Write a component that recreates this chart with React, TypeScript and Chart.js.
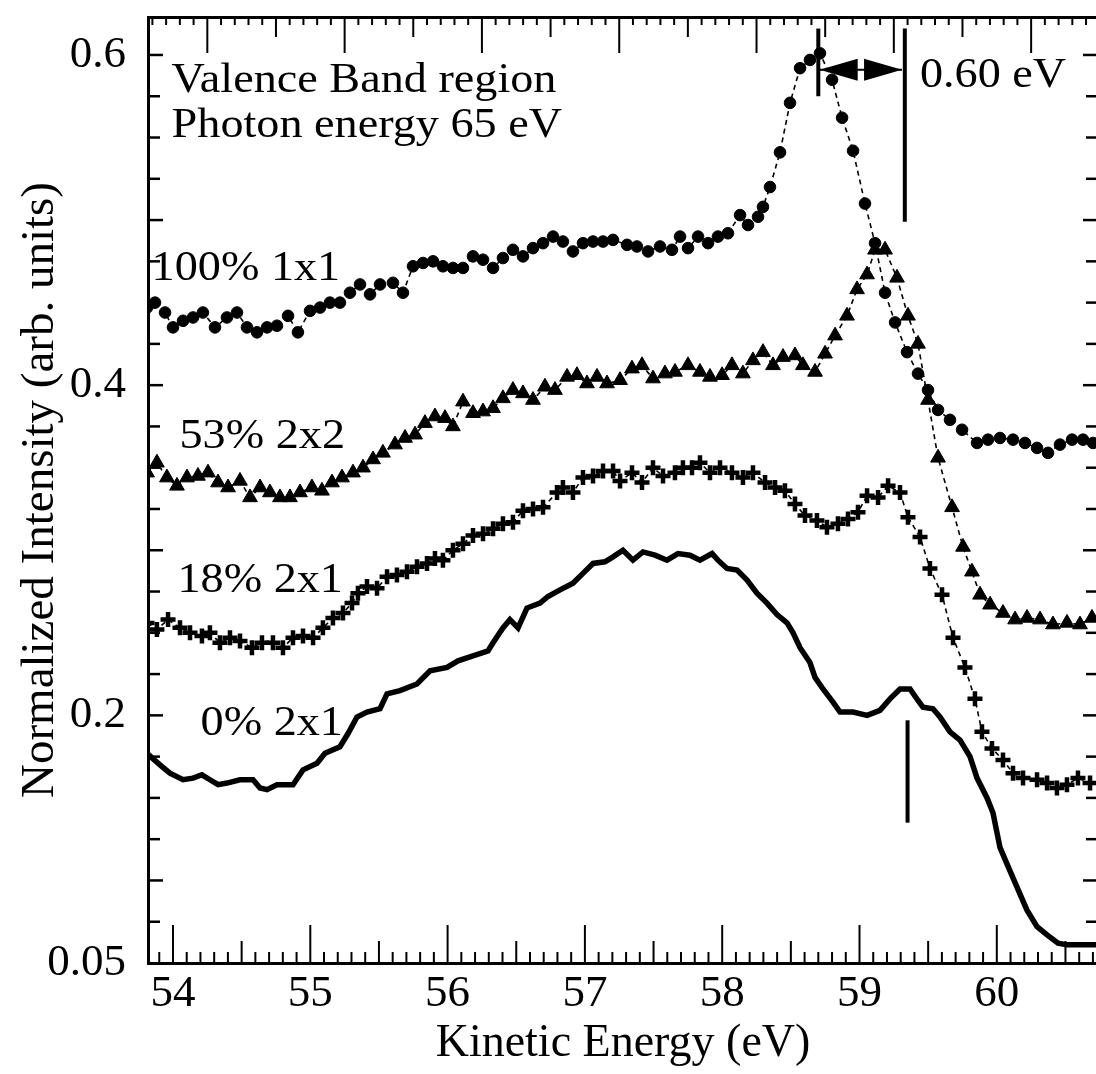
import React, { useEffect, useRef } from 'react';
import { Chart, registerables } from 'chart.js';

Chart.register(...registerables);

// ---- data (kinetic energy in eV, normalized intensity) ----
// 100% 1x1 (filled circles)
const energy100 = [
  53.811, 53.869, 53.942, 54.000, 54.073, 54.146, 54.218, 54.306, 54.393, 54.466,
  54.539, 54.612, 54.685, 54.757, 54.838, 54.910, 54.998, 55.071, 55.143, 55.216,
  55.289, 55.362, 55.435, 55.508, 55.602, 55.675, 55.748, 55.821, 55.894, 55.966,
  56.039, 56.112, 56.185, 56.258, 56.331, 56.403, 56.476, 56.549, 56.622, 56.695,
  56.768, 56.840, 56.913, 56.986, 57.059, 57.132, 57.205, 57.307, 57.379, 57.460,
  57.547, 57.634, 57.693, 57.751, 57.824, 57.897, 57.969, 58.042, 58.130, 58.188,
  58.261, 58.297, 58.348, 58.421, 58.494, 58.567, 58.639, 58.712, 58.800, 58.873,
  58.953, 59.040, 59.113, 59.186, 59.259, 59.346, 59.426, 59.499, 59.572, 59.659,
  59.747, 59.856, 59.936, 60.023, 60.118, 60.205, 60.293, 60.373, 60.460, 60.548,
  60.628, 60.701,
];
const int100 = [
  0.447, 0.450, 0.444, 0.435, 0.439, 0.441, 0.444, 0.435, 0.441, 0.444,
  0.435, 0.432, 0.435, 0.436, 0.442, 0.432, 0.445, 0.447, 0.450, 0.450,
  0.456, 0.461, 0.455, 0.461, 0.462, 0.456, 0.472, 0.474, 0.475, 0.472,
  0.471, 0.471, 0.478, 0.476, 0.471, 0.477, 0.482, 0.478, 0.483, 0.486,
  0.490, 0.487, 0.481, 0.486, 0.487, 0.487, 0.488, 0.485, 0.484, 0.481,
  0.484, 0.482, 0.490, 0.483, 0.490, 0.486, 0.490, 0.492, 0.503, 0.497,
  0.502, 0.508, 0.520, 0.541, 0.571, 0.592, 0.597, 0.601, 0.585, 0.562,
  0.542, 0.510, 0.486, 0.456, 0.438, 0.420, 0.407, 0.397, 0.385, 0.379,
  0.373, 0.365, 0.367, 0.368, 0.367, 0.365, 0.362, 0.359, 0.364, 0.367,
  0.367, 0.365,
];

// 53% 2x2 (filled triangles)
const energy53 = [
  53.811, 53.883, 53.956, 54.029, 54.102, 54.182, 54.255, 54.328, 54.401, 54.488,
  54.561, 54.634, 54.706, 54.779, 54.852, 54.925, 55.012, 55.085, 55.158, 55.231,
  55.311, 55.384, 55.457, 55.529, 55.617, 55.690, 55.763, 55.835, 55.908, 55.981,
  56.039, 56.112, 56.185, 56.258, 56.331, 56.403, 56.476, 56.549, 56.622, 56.709,
  56.782, 56.870, 56.942, 57.015, 57.088, 57.161, 57.256, 57.343, 57.416, 57.496,
  57.583, 57.656, 57.751, 57.838, 57.911, 57.999, 58.071, 58.151, 58.224, 58.297,
  58.370, 58.443, 58.530, 58.588, 58.676, 58.749, 58.822, 58.909, 58.982, 59.055,
  59.113, 59.186, 59.273, 59.353, 59.426, 59.499, 59.572, 59.674, 59.754, 59.819,
  59.878, 59.951, 60.045, 60.133, 60.220, 60.315, 60.409, 60.511, 60.606, 60.693,
];
const int53 = [
  0.347, 0.353, 0.344, 0.339, 0.344, 0.345, 0.347, 0.341, 0.338, 0.342,
  0.332, 0.338, 0.335, 0.332, 0.332, 0.335, 0.338, 0.336, 0.341, 0.344,
  0.347, 0.350, 0.355, 0.359, 0.364, 0.368, 0.370, 0.377, 0.381, 0.380,
  0.375, 0.390, 0.383, 0.384, 0.386, 0.392, 0.397, 0.395, 0.391, 0.399,
  0.397, 0.405, 0.406, 0.401, 0.405, 0.401, 0.403, 0.410, 0.412, 0.404,
  0.407, 0.408, 0.412, 0.408, 0.405, 0.406, 0.412, 0.407, 0.415, 0.420,
  0.412, 0.417, 0.418, 0.412, 0.408, 0.419, 0.430, 0.442, 0.458, 0.467,
  0.482, 0.482, 0.465, 0.442, 0.425, 0.391, 0.356, 0.326, 0.302, 0.287,
  0.273, 0.267, 0.262, 0.258, 0.259, 0.258, 0.255, 0.256, 0.255, 0.259,
];

// 18% 2x1 (plus signs)
const energy18 = [
  53.811, 53.883, 53.964, 54.051, 54.124, 54.211, 54.269, 54.342, 54.415, 54.488,
  54.575, 54.648, 54.728, 54.801, 54.874, 54.947, 55.020, 55.092, 55.165, 55.238,
  55.304, 55.347, 55.413, 55.486, 55.559, 55.631, 55.704, 55.777, 55.850, 55.908,
  55.966, 56.039, 56.112, 56.185, 56.258, 56.331, 56.403, 56.476, 56.549, 56.622,
  56.695, 56.797, 56.840, 56.913, 56.986, 57.059, 57.132, 57.205, 57.256, 57.343,
  57.416, 57.496, 57.569, 57.656, 57.714, 57.780, 57.838, 57.911, 57.984, 58.071,
  58.151, 58.224, 58.312, 58.385, 58.457, 58.530, 58.603, 58.690, 58.763, 58.843,
  58.916, 58.989, 59.055, 59.135, 59.208, 59.295, 59.353, 59.441, 59.513, 59.601,
  59.681, 59.768, 59.841, 59.892, 59.965, 60.045, 60.118, 60.191, 60.293, 60.366,
  60.438, 60.511, 60.591, 60.679,
];
const int18 = [
  0.256, 0.252, 0.258, 0.253, 0.250, 0.248, 0.250, 0.244, 0.247, 0.245,
  0.241, 0.244, 0.244, 0.241, 0.247, 0.248, 0.247, 0.253, 0.259, 0.262,
  0.268, 0.274, 0.278, 0.277, 0.284, 0.285, 0.287, 0.290, 0.292, 0.295,
  0.294, 0.300, 0.304, 0.309, 0.310, 0.313, 0.316, 0.317, 0.324, 0.325,
  0.326, 0.335, 0.338, 0.335, 0.344, 0.345, 0.348, 0.348, 0.342, 0.347,
  0.341, 0.350, 0.345, 0.347, 0.350, 0.350, 0.353, 0.347, 0.350, 0.347,
  0.344, 0.347, 0.341, 0.338, 0.336, 0.328, 0.321, 0.318, 0.314, 0.316,
  0.319, 0.323, 0.333, 0.332, 0.339, 0.335, 0.320, 0.308, 0.289, 0.273,
  0.247, 0.229, 0.210, 0.190, 0.180, 0.173, 0.165, 0.162, 0.161, 0.159,
  0.156, 0.158, 0.162, 0.159,
];

// 0% 2x1 (solid line)
const energy0 = [
  53.811, 53.905, 53.978, 54.073, 54.146, 54.211, 54.269, 54.328, 54.393, 54.488,
  54.583, 54.634, 54.685, 54.757, 54.874, 54.947, 55.049, 55.107, 55.216, 55.275,
  55.340, 55.413, 55.508, 55.559, 55.653, 55.777, 55.872, 55.996, 56.076, 56.185,
  56.294, 56.331, 56.403, 56.454, 56.513, 56.578, 56.673, 56.731, 56.819, 56.913,
  56.986, 57.059, 57.146, 57.205, 57.277, 57.350, 57.423, 57.511, 57.598, 57.678,
  57.765, 57.838, 57.926, 57.969, 58.035, 58.108, 58.181, 58.253, 58.326, 58.399,
  58.472, 58.516, 58.567, 58.639, 58.676, 58.734, 58.807, 58.858, 58.953, 59.055,
  59.149, 59.222, 59.295, 59.368, 59.426, 59.462, 59.535, 59.586, 59.659, 59.732,
  59.805, 59.856, 59.929, 59.972, 60.023, 60.074, 60.147, 60.220, 60.293, 60.366,
  60.446, 60.511, 60.740,
];
const int0 = [
  0.177, 0.170, 0.165, 0.161, 0.162, 0.164, 0.161, 0.158, 0.159, 0.161,
  0.161, 0.156, 0.155, 0.158, 0.158, 0.167, 0.171, 0.177, 0.181, 0.189,
  0.199, 0.202, 0.204, 0.213, 0.215, 0.219, 0.227, 0.229, 0.233, 0.236,
  0.239, 0.244, 0.253, 0.258, 0.253, 0.265, 0.268, 0.272, 0.276, 0.280,
  0.286, 0.292, 0.293, 0.296, 0.300, 0.294, 0.299, 0.297, 0.294, 0.298,
  0.297, 0.294, 0.298, 0.294, 0.289, 0.288, 0.282, 0.274, 0.268, 0.261,
  0.256, 0.250, 0.241, 0.232, 0.223, 0.216, 0.208, 0.202, 0.202, 0.200,
  0.203, 0.210, 0.216, 0.216, 0.209, 0.205, 0.204, 0.199, 0.190, 0.185,
  0.175, 0.162, 0.150, 0.141, 0.120, 0.110, 0.096, 0.082, 0.072, 0.067,
  0.062, 0.061, 0.061,
];

const xTickValues = [54, 55, 56, 57, 58, 59, 60];
const yTickValues = [0.05, 0.2, 0.4, 0.6];

const seriesLabels = ['100% 1x1', '53% 2x2', '18% 2x1', '0% 2x1'];

// annotation texts (data coordinates of anchor; baseline)
const noteTexts = ['Valence Band region', 'Photon energy 65 eV', '0.60 eV', '100% 1x1', '53% 2x2', '18% 2x1', '0% 2x1'];
const noteX = [53.99, 53.99, 59.44, 55.218, 55.253, 55.238, 55.238];
const noteY = [0.5776, 0.5503, 0.5806, 0.4636, 0.3618, 0.2745, 0.1879];
const noteAlign = ['left', 'left', 'left', 'right', 'right', 'right', 'right'];

// marker lines (data coordinates)
const markX = [58.70, 59.33, 59.35];
const markYTop = [0.616, 0.616, 0.197];
const markYBottom = [0.575, 0.499, 0.135];

// double arrow for the 0.60 eV shift
const arrowFrom = 58.71;
const arrowTo = 59.31;
const arrowY = 0.591;

// ---- axis ranges ----
const X_MIN = 53.818;
const X_MAX = 60.737;
const TOP_SHIFT = 0.25;
const Y_MIN = 0.05;
const Y_MAX = 0.623;

const FONT = "'Liberation Serif', 'Times New Roman', serif";
const NOTE_SIZE = 42;
const NOTE_STRETCH = 1.1;

const framePlugin = {
  id: 'frameTicks',
  afterDraw(chart: any) {
    const { ctx, chartArea: a } = chart;
    const xs = chart.scales.x;
    const xt = chart.scales.x2;
    const ys = chart.scales.y;
    ctx.save();
    ctx.strokeStyle = '#000';
    ctx.lineCap = 'butt';
    const seg = (x1: number, y1: number, x2: number, y2: number, w: number) => {
      ctx.lineWidth = w;
      ctx.beginPath();
      ctx.moveTo(x1, y1);
      ctx.lineTo(x2, y2);
      ctx.stroke();
    };
    for (let i = Math.ceil(xs.min * 10); i <= Math.floor(xs.max * 10); i++) {
      const px = xs.getPixelForValue(i / 10);
      const len = i % 10 === 0 ? 38 : i % 5 === 0 ? 22 : 11;
      seg(px, a.bottom, px, a.bottom - len, 2);
    }
    for (let i = Math.ceil(xt.min * 10); i <= Math.floor(xt.max * 10); i++) {
      const px = xt.getPixelForValue(i / 10);
      const len = i % 10 === 0 ? 36 : i % 5 === 0 ? 20 : 8;
      seg(px, a.top, px, a.top + len, 2);
    }
    for (let i = Math.round(ys.min * 40) + 1; i <= Math.floor(ys.max * 40 + 1e-6); i++) {
      const py = ys.getPixelForValue(i / 40);
      const len = i % 4 === 0 ? 15 : 12;
      seg(a.left, py, a.left + len, py, 2.5);
      seg(a.right, py, a.right - len, py, 2.5);
    }
    ctx.restore();
  },
  afterDatasetsDraw(chart: any) {
    const { ctx } = chart;
    const xs = chart.scales.x;
    const ys = chart.scales.y;
    ctx.save();
    ctx.fillStyle = '#000';
    ctx.strokeStyle = '#000';
    ctx.textBaseline = 'alphabetic';
    ctx.font = `${NOTE_SIZE}px ${FONT}`;
    noteTexts.forEach((t, i) => {
      ctx.save();
      ctx.translate(xs.getPixelForValue(noteX[i]), ys.getPixelForValue(noteY[i]));
      ctx.scale(NOTE_STRETCH, 1);
      ctx.textAlign = noteAlign[i];
      ctx.fillText(t, 0, 0);
      ctx.restore();
    });
    ctx.lineWidth = 4;
    markX.forEach((x, i) => {
      const px = xs.getPixelForValue(x);
      ctx.beginPath();
      ctx.moveTo(px, ys.getPixelForValue(markYTop[i]));
      ctx.lineTo(px, ys.getPixelForValue(markYBottom[i]));
      ctx.stroke();
    });
    const ax1 = xs.getPixelForValue(arrowFrom);
    const ax2 = xs.getPixelForValue(arrowTo);
    const ay = ys.getPixelForValue(arrowY);
    ctx.lineWidth = 2;
    ctx.beginPath();
    ctx.moveTo(ax1, ay);
    ctx.lineTo(ax2, ay);
    ctx.stroke();
    const headLen = 38;
    const headHalf = 11;
    ctx.beginPath();
    ctx.moveTo(ax1, ay);
    ctx.lineTo(ax1 + headLen, ay - headHalf);
    ctx.lineTo(ax1 + headLen, ay + headHalf);
    ctx.closePath();
    ctx.fill();
    ctx.beginPath();
    ctx.moveTo(ax2, ay);
    ctx.lineTo(ax2 - headLen, ay - headHalf);
    ctx.lineTo(ax2 - headLen, ay + headHalf);
    ctx.closePath();
    ctx.fill();
    ctx.restore();
  },
};

function pts(xv: number[], yv: number[]) {
  return xv.map((e, i) => ({ x: e, y: yv[i] }));
}

const noPad = (s: any) => {
  s.paddingLeft = 0;
  s.paddingRight = 0;
  s.paddingTop = 0;
  s.paddingBottom = 0;
};

export default function App() {
  const ref = useRef<HTMLCanvasElement>(null);

  useEffect(() => {
    if (!ref.current) return;
    Chart.defaults.font.family = FONT;
    const chart = new Chart(ref.current, {
      type: 'line',
      data: {
        datasets: [
          {
            label: seriesLabels[0],
            data: pts(energy100, int100),
            borderColor: '#000',
            backgroundColor: '#000',
            borderWidth: 1.6,
            borderDash: [5, 4],
            pointStyle: 'circle',
            pointRadius: 5.8,
            pointBorderWidth: 1,
            pointBackgroundColor: '#000',
            pointBorderColor: '#000',
            tension: 0,
          },
          {
            label: seriesLabels[1],
            data: pts(energy53, int53),
            borderColor: '#000',
            backgroundColor: '#000',
            borderWidth: 1.6,
            borderDash: [5, 4],
            pointStyle: 'triangle',
            pointRadius: 8.5,
            pointBorderWidth: 1,
            pointBackgroundColor: '#000',
            pointBorderColor: '#000',
            tension: 0,
          },
          {
            label: seriesLabels[2],
            data: pts(energy18, int18),
            borderColor: '#000',
            backgroundColor: '#000',
            borderWidth: 1.6,
            borderDash: [5, 4],
            pointStyle: 'cross',
            pointRadius: 7.5,
            pointBorderWidth: 4.5,
            pointBackgroundColor: '#000',
            pointBorderColor: '#000',
            tension: 0,
          },
          {
            label: seriesLabels[3],
            data: pts(energy0, int0),
            borderColor: '#000',
            backgroundColor: '#000',
            borderWidth: 5.5,
            pointRadius: 0,
            tension: 0,
          },
        ],
      },
      options: {
        animation: false,
        responsive: false,
        devicePixelRatio: 1,
        layout: { padding: 0, autoPadding: false },
        plugins: {
          legend: { display: false },
          tooltip: { enabled: false },
        },
        scales: {
          x: {
            type: 'linear',
            position: 'bottom',
            min: X_MIN,
            max: X_MAX,
            bounds: 'data',
            afterBuildTicks: (s: any) => {
              s.ticks = xTickValues.map((v) => ({ value: v }));
            },
            afterFit: (s: any) => {
              s.height = 111;
              noPad(s);
            },
            ticks: {
              font: { family: FONT, size: 45 },
              color: '#000',
              padding: 4,
              maxRotation: 0,
              autoSkip: false,
              callback: (v: any) => String(v),
            },
            grid: { display: false, drawTicks: false },
            border: { display: true, color: '#000', width: 3 },
            title: {
              display: true,
              text: 'Kinetic Energy (eV)',
              font: { family: FONT, size: 46 },
              color: '#000',
              padding: { top: 0, bottom: 2 },
            },
          },
          x2: {
            type: 'linear',
            position: 'top',
            min: X_MIN - TOP_SHIFT,
            max: X_MAX - TOP_SHIFT,
            bounds: 'data',
            afterFit: (s: any) => {
              s.height = 17;
              noPad(s);
            },
            ticks: { display: false },
            grid: { display: false, drawTicks: false },
            border: { display: true, color: '#000', width: 3 },
          },
          y: {
            type: 'linear',
            position: 'left',
            min: Y_MIN,
            max: Y_MAX,
            bounds: 'data',
            afterBuildTicks: (s: any) => {
              s.ticks = yTickValues.map((v) => ({ value: v }));
            },
            afterFit: (s: any) => {
              s.width = 148;
              noPad(s);
            },
            ticks: {
              font: { family: FONT, size: 45 },
              color: '#000',
              padding: 22,
              autoSkip: false,
              callback: (v: any) => (v === 0.05 ? '0.05' : String(v)),
            },
            grid: { display: false, drawTicks: false },
            border: { display: true, color: '#000', width: 3 },
            title: {
              display: true,
              text: 'Normalized Intensity (arb. units)',
              font: { family: FONT, size: 47 },
              color: '#000',
              padding: { top: 12, bottom: 0 },
            },
          },
          y2: {
            type: 'linear',
            position: 'right',
            min: Y_MIN,
            max: Y_MAX,
            bounds: 'data',
            afterFit: (s: any) => {
              s.width = 2;
              noPad(s);
            },
            ticks: { display: false },
            grid: { display: false, drawTicks: false },
            border: { display: true, color: '#000', width: 3 },
          },
        },
      },
      plugins: [framePlugin],
    } as any);
    return () => chart.destroy();
  }, []);

  return (
    <div
      style={{
        position: 'fixed',
        left: 0,
        top: 0,
        width: 1096,
        height: 1074,
        overflow: 'hidden',
        background: '#fff',
      }}
    >
      <canvas ref={ref} width={1100} height={1074} style={{ display: 'block', width: 1100, height: 1074 }} />
    </div>
  );
}
